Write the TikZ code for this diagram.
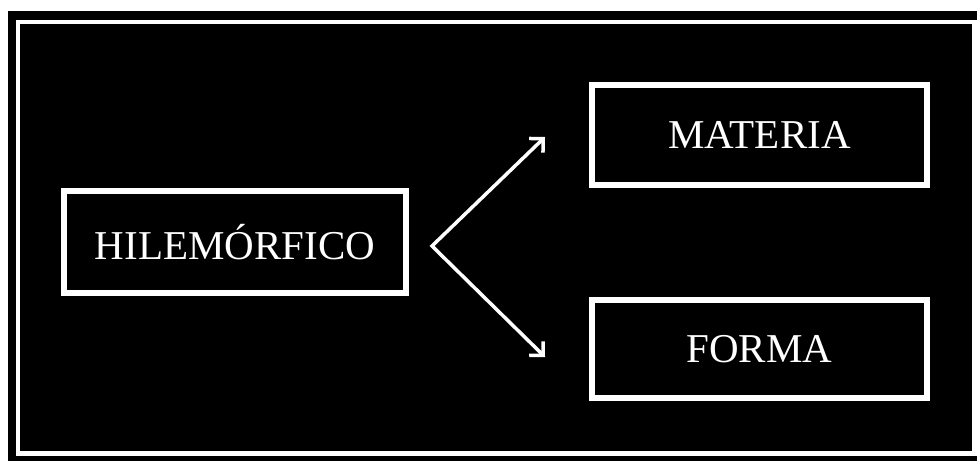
\documentclass[tikz,border=0pt]{standalone}
\usepackage{fontspec}
\setmainfont{Liberation Serif}
\usetikzlibrary{arrows.meta}

\begin{document}
\begin{tikzpicture}[x=1pt, y=-1pt,
        box/.style={draw=white, line width=5.5pt, text=white, font=\fontsize{41}{48}\selectfont},
        branch/.style={white, line width=3.5pt, line join=miter, {Straight Barb[angle=90:14pt]}-{Straight Barb[angle=90:14pt]}}]
        % page and frame
        \useasboundingbox (0,0) rectangle (977,461);
        \fill[white] (0,0) rectangle (977,461);
        \fill[black] (8,11) rectangle (977,461);
        \draw[white, line width=4.5pt] (18,22) rectangle (974.5,453.5);
        % boxes
        \node[box, minimum width=342pt, minimum height=102pt] (hilemorfico) at (235,242) {HILEMÓRFICO};
        \node[box, minimum width=335pt, minimum height=100pt] (materia) at (759.5,135) {MATERIA};
        \node[box, minimum width=335pt, minimum height=98pt] (forma) at (759.5,349) {FORMA};
        % arrows
        \coordinate (vertex) at (432,246);
        \coordinate (tipup) at (545,137);
        \coordinate (tipdown) at (545,357);
        \draw[branch] (tipup) -- (vertex) -- (tipdown);
    \end{tikzpicture}
\end{document}
